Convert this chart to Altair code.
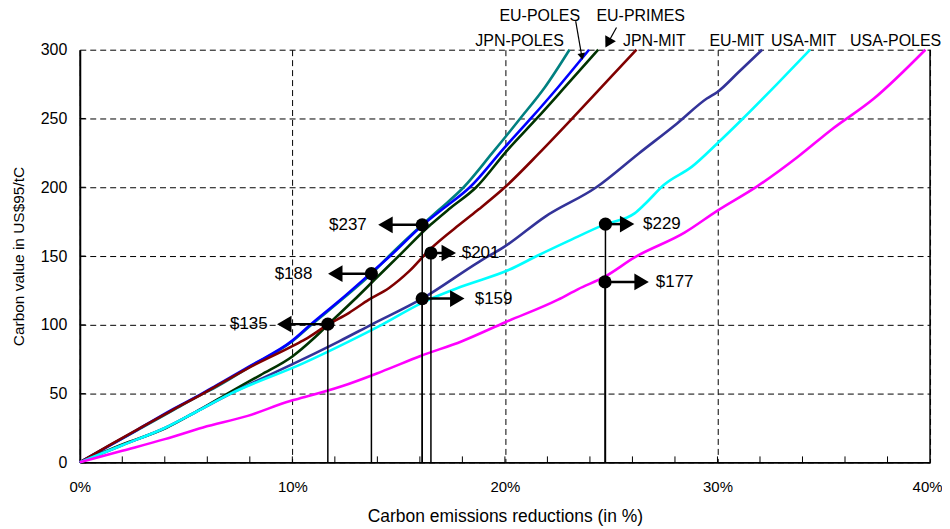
import altair as alt
import pandas as pd

# ---------------- data ----------------
SERIES = ["USA-POLES", "USA-MIT", "EU-MIT", "JPN-MIT", "EU-PRIMES", "JPN-POLES", "EU-POLES"]
COLORS = ["#FF00FF", "#00FFFF", "#333399", "#800000", "#003300", "#008080", "#0000FF"]
WIDTHS = [3.0, 3.0, 2.5, 2.5, 2.5, 2.5, 2.5]

JPN_POLES_X = [0, 1.5, 2.9, 4.4, 5.8, 6.26, 8.0, 10.0, 10.9, 12.3, 13.72, 14.55, 16.11, 16.9, 18.06, 19.39, 20.72, 21.89, 23.04]
JPN_POLES_Y = [0, 13, 25, 38, 50, 53.5, 69.5, 88, 100, 118, 137, 150, 172.7, 183.6, 200, 224.6, 250, 272.9, 300]

EU_POLES_X = [0, 1.5, 2.85, 4.3, 5.75, 6.2, 8.0, 10.0, 10.85, 12.25, 13.65, 14.6, 16.15, 17.1, 18.35, 19.95, 21.22, 22.51, 23.96]
EU_POLES_Y = [0, 13, 25, 38, 50, 54, 70, 88.5, 100, 118, 137, 150, 172.7, 184.5, 200, 228.3, 250, 272.9, 300]

EU_PRIMES_X = [0, 2.0, 4.05, 5.5, 6.95, 8.5, 10.0, 11.0, 11.67, 12.9, 13.95, 14.94, 16.5, 17.36, 18.65, 20.12, 21.5, 22.83, 24.39]
EU_PRIMES_Y = [0, 13, 25, 37, 50, 63.5, 77, 90, 100, 118, 134, 149, 172.7, 184, 200, 227, 250, 272.9, 300]

JPN_MIT_X = [0, 1.4, 2.85, 4.3, 5.8, 7.8, 10.0, 10.6, 11.66, 12.67, 13.6, 14.55, 15.5, 16.42, 18.0, 18.77, 20.0, 21.6, 23.17, 24.86, 26.19]
JPN_MIT_Y = [0, 12.5, 25, 37.5, 50, 67.5, 84.5, 89.4, 100, 108.7, 118.3, 126.8, 139, 154, 174.5, 184, 200, 224.6, 250, 278, 300]

EU_MIT_X = [0, 2.0, 4.0, 5.5, 7.1, 10.5, 12.2, 13.7, 16.1, 18.8, 20.0, 21.9, 24.3, 26.3, 28.1, 29.5, 30.0, 31.0, 32.1]
EU_MIT_Y = [0, 12.5, 25, 37, 50, 75, 88, 100, 119, 146, 157, 178.7, 200, 224.6, 246.4, 264.5, 269.3, 283.8, 300]

USA_MIT_X = [0, 2.0, 4.0, 5.5, 7.1, 10.5, 12.67, 14.2, 16.1, 18.0, 20.2, 21.5, 23.0, 24.7, 26.1, 26.6, 27.5, 28.8, 30.0, 31.2, 32.8, 34.36]
USA_MIT_Y = [0, 12.5, 25, 37, 50, 72, 88, 100, 116, 128, 140, 150, 161, 173, 181, 188, 202, 215, 232, 250, 275, 300]

USA_POLES_X = [0, 2.0, 4.0, 5.8, 7.9, 9.9, 10.33, 12.36, 14.2, 16.03, 17.98, 20.02, 22.5, 23.45, 24.7, 26.1, 28.45, 30.0, 31.9, 33.77, 35.33, 37.36, 39.78]
USA_POLES_Y = [0, 8.4, 16.9, 25.4, 33.8, 44.6, 46.4, 55.5, 66, 77.3, 88.1, 101.9, 118.3, 126, 135, 149, 167, 183, 201, 222, 241.5, 264.5, 300]

CURVES = {
    "JPN-POLES": (JPN_POLES_X, JPN_POLES_Y),
    "EU-POLES": (EU_POLES_X, EU_POLES_Y),
    "EU-PRIMES": (EU_PRIMES_X, EU_PRIMES_Y),
    "JPN-MIT": (JPN_MIT_X, JPN_MIT_Y),
    "EU-MIT": (EU_MIT_X, EU_MIT_Y),
    "USA-MIT": (USA_MIT_X, USA_MIT_Y),
    "USA-POLES": (USA_POLES_X, USA_POLES_Y),
}

# price markers: point, arrow head position, label position
ANN_LABEL = ["$237", "$188", "$135", "$201", "$159", "$229", "$177"]
ANN_X = [16.11, 13.72, 11.67, 16.52, 16.11, 24.73, 24.71]
ANN_Y = [172.7, 137.2, 100.5, 152.2, 119.1, 173.2, 131.2]
ANN_HEAD_X = [14.38, 12.02, 9.62, 17.36, 17.76, 25.75, 26.43]
ANN_TEXT_X = [13.5, 10.94, 8.84, 17.97, 18.58, 26.5, 27.1]
ANN_DIR = ["L", "L", "L", "R", "R", "R", "R"]

# series names written above the plot
TOP_LABEL = ["EU-POLES", "EU-PRIMES", "JPN-POLES", "JPN-MIT", "EU-MIT", "USA-MIT", "USA-POLES"]
TOP_X = [21.64, 26.39, 20.69, 27.03, 30.91, 34.06, 38.38]
TOP_Y = [324.5, 324.5, 306.5, 306.5, 306.5, 306.5, 306.5]

# small pointer arrows from the labels to the curves
PTR_X1 = [23.33, 25.25]
PTR_Y1 = [320.7, 316.2]
PTR_X2 = [23.62, 24.85]
PTR_Y2 = [295.0, 305.0]
PTR_ANGLE = [350, 29]
PTR_SIZE = [60, 150]

X_TICKS = [0, 10, 20, 30, 40]
X_MINOR = [2, 4, 6, 8, 10, 12, 14, 16, 18, 20, 22, 24, 26, 28, 30, 32, 34, 36, 38]
Y_TICKS = [0, 50, 100, 150, 200, 250, 300]

# ---------------- build ----------------
W, H = 853, 414
FONT = "Liberation Sans"

rows = []
for name, (xv, yv) in CURVES.items():
    for i, (x, y) in enumerate(zip(xv, yv)):
        rows.append({"series": name, "x": x, "y": y, "i": i})
lines_df = pd.DataFrame(rows)

ann_df = pd.DataFrame({
    "label": ANN_LABEL, "x": ANN_X, "y": ANN_Y, "hx": ANN_HEAD_X,
    "tx": ANN_TEXT_X, "dir": ANN_DIR, "zero": [0] * len(ANN_X),
})
top_df = pd.DataFrame({"label": TOP_LABEL, "x": TOP_X, "y": TOP_Y})
ptr_df = pd.DataFrame({"x1": PTR_X1, "y1": PTR_Y1, "x2": PTR_X2, "y2": PTR_Y2,
                       "angle": PTR_ANGLE, "size": PTR_SIZE})

xs = alt.Scale(domain=[0, 40], nice=False, zero=False)
ys = alt.Scale(domain=[0, 300], nice=False, zero=False)

x_axis = alt.Axis(
    values=X_TICKS, labelExpr="datum.value + '%'", grid=True, gridDash=[6, 4],
    gridColor="#000000", gridWidth=1, gridOpacity=1, ticks=False, labelFlush=False,
    labelOffset={"condition": {"test": "datum.value >= 40", "value": -3}, "value": 0},
    domainColor="#000000", domainWidth=2, labelFontSize=15, labelPadding=17,
    labelColor="#000000", title="Carbon emissions reductions (in %)",
    titleFontSize=17.5, titleFontWeight="normal", titleColor="#000000", titlePadding=13,
    labelFont=FONT, titleFont=FONT,
)
y_axis = alt.Axis(
    values=Y_TICKS, grid=True, gridDash=[6, 4], gridColor="#000000", gridWidth=1,
    gridOpacity=1, ticks=False, domainColor="#000000", domainWidth=2, labelFlush=False,
    labelFontSize=16, labelPadding=13, labelColor="#000000",
    title="Carbon value in US$95/tC", titleFontSize=15.5, titleFontWeight="normal",
    titleColor="#000000", titlePadding=14, labelFont=FONT, titleFont=FONT,
)


def X(f):
    return alt.X(f, type="quantitative", scale=xs, axis=x_axis)


def Y(f):
    return alt.Y(f, type="quantitative", scale=ys, axis=y_axis)


lines = alt.Chart(lines_df).mark_line(strokeWidth=2.6, interpolate="monotone").encode(
    x=X("x"), y=Y("y"),
    color=alt.Color("series:N", scale=alt.Scale(domain=SERIES, range=COLORS), legend=None),
    strokeWidth=alt.StrokeWidth("series:N", scale=alt.Scale(domain=SERIES, range=WIDTHS), legend=None),
    order=alt.Order("i:Q"),
)

right_border = alt.Chart(pd.DataFrame({"x": [40]})).mark_rule(color="#000000", strokeWidth=1.5).encode(
    x=X("x"), y=alt.value(0), y2=alt.value(H))

xminor = alt.Chart(pd.DataFrame({"t": X_MINOR})).mark_rule(color="#000000", strokeWidth=1).encode(
    x=X("t"), y=alt.value(H), y2=alt.value(H - 6))
yminor = alt.Chart(pd.DataFrame({"t": Y_TICKS[1:-1]})).mark_rule(color="#000000", strokeWidth=1).encode(
    y=Y("t"), x=alt.value(0), x2=alt.value(6))

drops = alt.Chart(ann_df).mark_rule(color="#000000", strokeWidth=1.5).encode(
    x=X("x"), y=Y("zero"), y2="y:Q")
shafts = alt.Chart(ann_df).mark_rule(color="#000000", strokeWidth=2.5).encode(
    x=X("x"), x2="hx:Q", y=Y("y"))
heads = alt.Chart(ann_df).mark_point(filled=True, color="#000000", opacity=1, size=280).encode(
    x=X("hx"), y=Y("y"),
    shape=alt.Shape("dir:N", scale=alt.Scale(domain=["L", "R"], range=["triangle-left", "triangle-right"]), legend=None),
)
dots = alt.Chart(ann_df).mark_circle(color="#000000", opacity=1, size=175).encode(x=X("x"), y=Y("y"))
text_l = alt.Chart(ann_df).transform_filter("datum.dir == 'L'").mark_text(
    align="right", baseline="middle", fontSize=17, font=FONT, color="#000000").encode(
    x=X("tx"), y=Y("y"), text="label:N")
text_r = alt.Chart(ann_df).transform_filter("datum.dir == 'R'").mark_text(
    align="left", baseline="middle", fontSize=17, font=FONT, color="#000000").encode(
    x=X("tx"), y=Y("y"), text="label:N")

top_text = alt.Chart(top_df).mark_text(align="center", baseline="middle", fontSize=16, font=FONT,
                                       color="#000000").encode(x=X("x"), y=Y("y"), text="label:N")
ptr_line = alt.Chart(ptr_df).mark_rule(color="#000000", strokeWidth=1.2).encode(
    x=X("x1"), x2="x2:Q", y=Y("y1"), y2="y2:Q")
ptr_head = alt.Chart(ptr_df).mark_point(filled=True, color="#000000", opacity=1, shape="triangle-down").encode(
    x=X("x2"), y=Y("y2"), angle=alt.Angle("angle:Q", scale=None),
    size=alt.Size("size:Q", scale=None, legend=None))

chart = alt.layer(
    lines, right_border, xminor, yminor, drops, shafts, heads, dots, text_l, text_r,
    top_text, ptr_line, ptr_head,
).properties(
    width=W, height=H,
    autosize=alt.AutoSizeParams(type="none"),
    padding={"left": 72, "top": 41, "right": 12, "bottom": 64},
    background="#ffffff",
).configure_view(stroke=None)

chart.save("out.html", embed_options={"renderer": "svg", "actions": False})
